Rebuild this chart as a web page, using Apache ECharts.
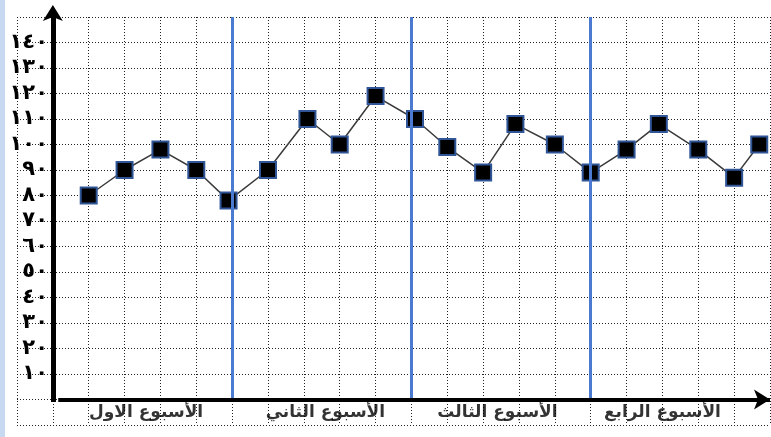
<!DOCTYPE html>
<html>
<head>
<meta charset="utf-8">
<script src="https://cdn.jsdelivr.net/npm/echarts@6/dist/echarts.min.js"></script>
<style>
  html, body { margin: 0; padding: 0; background: #fff; }
  #echarts { width: 771px; height: 437px; background: linear-gradient(to right, #c6d9f1 5px, #fff 5px); }
</style>
</head>
<body>
<div id="echarts"></div>
<script>
// القيم اليومية
var dayX = [1, 2, 3, 4, 4.9, 6, 7.1, 8, 9, 10.1, 11, 12, 12.9, 14, 15, 16, 16.9, 18, 19, 19.7];
var dayY = [80, 90, 98, 90, 78, 90, 110, 100, 119, 110, 99, 89, 108, 100, 89, 98, 108, 98, 87, 100];

// الأسابيع
var weekNames = ['الأسبوع الاول', 'الأسبوع الثاني', 'الأسبوع الثالث', 'الأسبوع الرابع'];
var weekCenters = [2.6, 7.6, 12.4, 17.0];
var weekBounds = [5, 10, 15];

// المحور الرأسي
var yTicks = [10, 20, 30, 40, 50, 60, 70, 80, 90, 100, 110, 120, 130, 140];
var yTickLabels = ['١٠', '٢٠', '٣٠', '٤٠', '٥٠', '٦٠', '٧٠', '٨٠', '٩٠', '١٠٠', '١١٠', '١٢٠', '١٣٠', '١٤٠'];

var myChart = echarts.init(document.getElementById('echarts'));

var gridLine = { show: true, lineStyle: { color: '#222', type: [1, 2], width: 1 } };

option = {
    animation: false,
    grid: { left: 17, right: 1, top: 17, bottom: 12, outerBoundsMode: 'none', containLabel: false },
    xAxis: {
        type: 'value',
        min: -1,
        max: 20,
        interval: 1,
        axisLine: { show: false },
        axisTick: { show: false },
        axisLabel: { show: false },
        splitLine: gridLine
    },
    yAxis: {
        type: 'value',
        min: -10,
        max: 150,
        interval: 10,
        offset: -36,
        axisLine: { show: false },
        axisTick: { show: false },
        axisLabel: {
            margin: 5,
            color: '#000',
            fontFamily: 'DejaVu Sans',
            fontWeight: 'bold',
            fontSize: 21,
            formatter: function (v) {
                var i = yTicks.indexOf(v);
                return i >= 0 ? yTickLabels[i] : '';
            }
        },
        splitLine: gridLine
    },
    series: [
        {
            name: 'فواصل',
            type: 'scatter',
            data: [],
            z: 1,
            markLine: {
                silent: true,
                symbol: ['none', 'none'],
                label: { show: false },
                lineStyle: { color: '#4a7bd0', width: 3, type: 'solid' },
                data: weekBounds.map(function (b) {
                    return [{ coord: [b, 0] }, { coord: [b, 150] }];
                })
            }
        },
        {
            name: 'محاور',
            type: 'scatter',
            data: [],
            z: 2,
            markLine: {
                silent: true,
                symbol: ['none', 'arrow'],
                symbolSize: [15, 16],
                label: { show: false },
                lineStyle: { color: '#000', width: 5, type: 'solid' },
                data: [
                    [{ coord: [0, -1] }, { coord: [0, 150], symbolOffset: [0, -12] }],
                    [{ coord: [0.15, 0], lineStyle: { width: 4 } }, { coord: [20, 0] }]
                ]
            }
        },
        {
            name: 'القيم',
            type: 'line',
            z: 3,
            data: dayX.map(function (x, i) { return [x, dayY[i]]; }),
            lineStyle: { color: '#3a3a3a', width: 1.5 },
            symbol: 'rect',
            symbolSize: 16,
            itemStyle: { color: '#000', borderColor: '#2f5597', borderWidth: 2 }
        },
        {
            name: 'الأسابيع',
            type: 'scatter',
            z: 4,
            symbolSize: 0,
            data: weekCenters.map(function (c, i) { return { name: weekNames[i], value: [c, -5] }; }),
            label: {
                show: true,
                position: 'inside',
                formatter: '{b}',
                color: '#000',
                fontFamily: 'DejaVu Sans',
                fontWeight: 'bold',
                fontSize: 17
            }
        }
    ]
};
myChart.setOption(option);
</script>
</body>
</html>
